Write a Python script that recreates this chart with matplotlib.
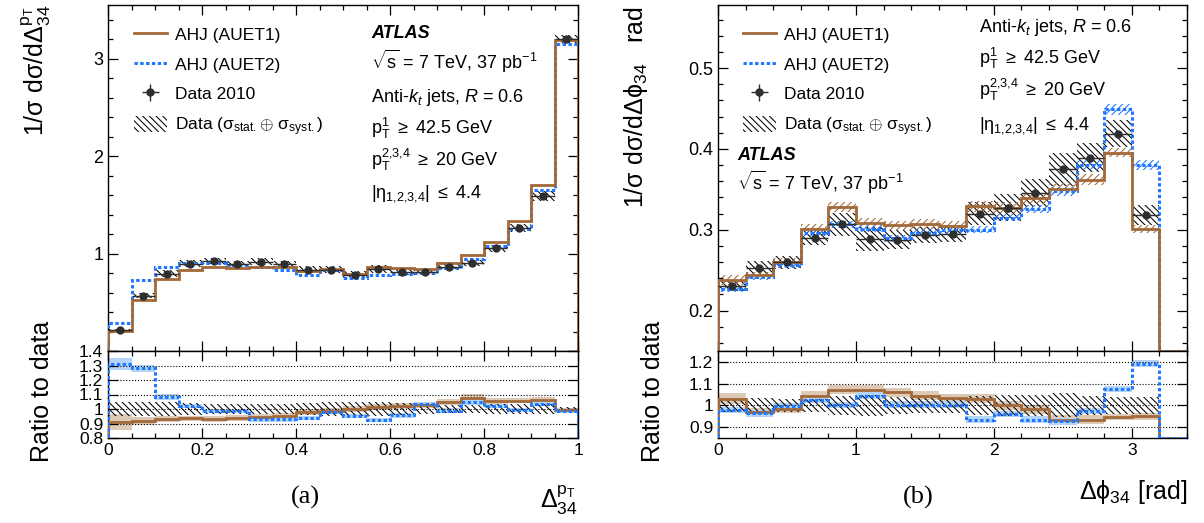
import numpy as np
import matplotlib
matplotlib.use('Agg')
import matplotlib.pyplot as plt
from matplotlib.ticker import MultipleLocator, FuncFormatter
from matplotlib.lines import Line2D
from matplotlib.patches import Patch

plt.rcParams['font.family'] = ['Liberation Sans', 'DejaVu Sans']
plt.rcParams['mathtext.fontset'] = 'custom'
plt.rcParams['mathtext.rm'] = 'Liberation Sans'
plt.rcParams['mathtext.it'] = 'Liberation Sans:italic'
plt.rcParams['mathtext.bf'] = 'Liberation Sans:bold'
plt.rcParams['hatch.linewidth'] = 0.75

BROWN = '#a2693a'
BLUE = '#1f78ff'
BROWN_BAND = '#dccab6'
BLUE_BAND = '#b5d5f8'

# ---- (a) pT balance of the two softer jets
ptbal_edges = np.round(np.arange(0, 1.0001, 0.05), 3)
ptbal_data = [0.217, 0.569, 0.791, 0.894, 0.921, 0.894, 0.918, 0.894, 0.836, 0.836,
              0.781, 0.843, 0.812, 0.812, 0.863, 0.904, 1.055, 1.263, 1.591, 3.198]
ptbal_data_err = [0.05, 0.045, 0.045, 0.04, 0.035, 0.035, 0.035, 0.035, 0.04, 0.045,
                  0.045, 0.045, 0.04, 0.035, 0.03, 0.03, 0.035, 0.035, 0.035, 0.015]
ptbal_auet1 = [0.203, 0.521, 0.737, 0.836, 0.860, 0.853, 0.860, 0.860, 0.822, 0.843,
               0.785, 0.863, 0.853, 0.843, 0.908, 0.980, 1.116, 1.338, 1.708, 3.195]
ptbal_auet2 = [0.292, 0.727, 0.863, 0.908, 0.908, 0.887, 0.863, 0.836, 0.781, 0.829,
               0.750, 0.778, 0.788, 0.800, 0.853, 0.949, 1.075, 1.256, 1.656, 3.154]
ptbal_ratio1 = [0.910, 0.917, 0.931, 0.935, 0.933, 0.940, 0.945, 0.954, 0.977, 0.984,
                0.998, 1.016, 1.023, 1.028, 1.048, 1.076, 1.053, 1.058, 1.062, 0.990]
ptbal_ratio1_err = [0.055, 0.03, 0.02, 0.02, 0.02, 0.02, 0.02, 0.02, 0.02, 0.02,
                    0.02, 0.02, 0.02, 0.02, 0.02, 0.025, 0.02, 0.02, 0.02, 0.015]
ptbal_ratio2 = [1.312, 1.280, 1.082, 1.020, 0.985, 0.985, 0.928, 0.928, 0.940, 0.980,
                0.952, 0.922, 0.956, 1.034, 0.989, 1.045, 1.020, 0.995, 1.034, 0.986]
ptbal_ratio2_err = [0.04, 0.025, 0.02, 0.015, 0.015, 0.015, 0.015, 0.015, 0.015, 0.015,
                    0.015, 0.015, 0.015, 0.015, 0.015, 0.015, 0.015, 0.015, 0.015, 0.012]

# ---- (b) azimuthal separation of the two softer jets
dphi_edges = np.round(np.arange(0, 3.4001, 0.2), 3)
dphi_data = [0.2307, 0.2525, 0.2598, 0.2898, 0.3066, 0.2885, 0.2877, 0.2934,
             0.2950, 0.3197, 0.3275, 0.3459, 0.3746, 0.3893, 0.4189, 0.3184]
dphi_data_err = [0.03, 0.035, 0.03, 0.03, 0.045, 0.05, 0.04, 0.035,
                 0.035, 0.045, 0.05, 0.05, 0.055, 0.045, 0.04, 0.04]
dphi_auet1 = [0.2377, 0.2434, 0.2600, 0.3008, 0.3280, 0.3086, 0.3053, 0.3066,
              0.3050, 0.3290, 0.3275, 0.3390, 0.3510, 0.3620, 0.3955, 0.3010, 0.0]
dphi_auet2 = [0.2266, 0.2418, 0.2570, 0.2963, 0.3066, 0.3015, 0.2893, 0.2963,
              0.2992, 0.3000, 0.3150, 0.3254, 0.3475, 0.3800, 0.4488, 0.3800, 0.0]
dphi_ratio1 = [1.031, 0.968, 0.983, 1.045, 1.072, 1.072, 1.060, 1.045,
               1.034, 1.031, 1.000, 0.982, 0.935, 0.935, 0.946, 0.949, 0.0]
dphi_ratio1_err = [0.025, 0.02, 0.02, 0.02, 0.02, 0.02, 0.02, 0.02,
                   0.02, 0.02, 0.02, 0.02, 0.02, 0.02, 0.015, 0.015, 0.0]
dphi_ratio2 = [0.978, 0.963, 0.997, 1.025, 1.002, 1.045, 1.003, 1.003,
               1.003, 0.935, 0.960, 0.935, 0.926, 0.975, 1.075, 1.192, 0.0]
dphi_ratio2_err = [0.015, 0.015, 0.015, 0.015, 0.015, 0.015, 0.015, 0.015,
                   0.015, 0.015, 0.015, 0.015, 0.015, 0.015, 0.015, 0.015, 0.0]

W, H = 1204, 523
fig = plt.figure(figsize=(W / 100, H / 100), dpi=100)


def fmt_g(v, p):
    return '%g' % round(v, 4)


def style_axis(ax, xmaj, xmin, ymaj, ymin, fs):
    ax.xaxis.set_major_locator(MultipleLocator(xmaj))
    ax.xaxis.set_minor_locator(MultipleLocator(xmin))
    ax.yaxis.set_major_locator(MultipleLocator(ymaj))
    if ymin:
        ax.yaxis.set_minor_locator(MultipleLocator(ymin))
    ax.tick_params(which='both', direction='in', top=True, right=True, labelsize=fs)
    ax.tick_params(which='major', length=7.5, width=0.9)
    ax.tick_params(which='minor', length=3.8, width=0.9)
    ax.yaxis.set_major_formatter(FuncFormatter(fmt_g))
    ax.xaxis.set_major_formatter(FuncFormatter(fmt_g))
    for s in ax.spines.values():
        s.set_linewidth(1.0)


def hatch_band(ax, edges, centre, rel, color, hatch, z):
    centre = np.asarray(centre, float)
    rel = np.asarray(rel, float)
    ax.stairs(centre * (1 + rel), edges, baseline=centre * (1 - rel), fill=True,
              facecolor='none', edgecolor=color, hatch=hatch, linewidth=0, zorder=z)


def draw_pair(axm, axr, edges, data, data_err, m1, m2, r1, r1e, r2, r2e, ylim_m, ylim_r, model_hatch):
    edges = np.asarray(edges)
    nd = len(data)
    dedges = edges[:nd + 1]
    centres = 0.5 * (dedges[1:] + dedges[:-1])
    half = 0.5 * np.diff(dedges)

    # main panel
    hatch_band(axm, dedges, data, data_err, 'black', '\\\\\\\\\\', 1)
    if model_hatch:
        nm = len(m1)
        hatch_band(axm, edges[:nm], np.asarray(m1[:-1]), np.asarray(r1e[:-1]), BROWN, '/////', 1)
        hatch_band(axm, edges[:nm], np.asarray(m2[:-1]), np.asarray(r2e[:-1]), BLUE, '/////', 1)
    axm.stairs(np.clip(m2, *ylim_m), edges, color=BLUE, lw=2.2, ls=(0, (1.1, 0.8)), zorder=3)
    axm.stairs(np.clip(m1, *ylim_m), edges, color=BROWN, lw=2.0, zorder=4)
    axm.errorbar(centres, data, xerr=half, yerr=np.zeros(nd), fmt='o', color='#2e2e2e',
                 ms=5, elinewidth=1.0, capsize=0, zorder=5)
    axm.set_xlim(edges[0], edges[-1])
    axm.set_ylim(*ylim_m)

    # ratio panel
    r1 = np.asarray(r1, float)
    r2 = np.asarray(r2, float)
    r1e = np.asarray(r1e, float)
    r2e = np.asarray(r2e, float)
    axr.stairs(r1 + r1e, edges, baseline=r1 - r1e, fill=True, color=BROWN_BAND, lw=0, zorder=1)
    axr.stairs(r2 + r2e, edges, baseline=r2 - r2e, fill=True, color=BLUE_BAND, lw=0, zorder=1)
    hatch_band(axr, dedges, np.ones(nd), data_err, 'black', '\\\\\\\\\\', 2)
    axr.stairs(np.clip(r1, *ylim_r), edges, color=BROWN, lw=2.0, zorder=3)
    axr.stairs(np.clip(r2, *ylim_r), edges, color=BLUE, lw=2.2, ls=(0, (1.1, 0.8)), zorder=4)
    axr.set_xlim(edges[0], edges[-1])
    axr.set_ylim(*ylim_r)
    axr.yaxis.grid(True, ls=':', color='black', lw=0.8)
    axm.tick_params(labelbottom=False)


def add_legend(ax, x, y):
    handles = [Line2D([], [], color=BROWN, lw=2.0),
               Line2D([], [], color=BLUE, lw=2.2, ls=(0, (1.1, 0.8))),
               ax.containers[0],
               Patch(facecolor='none', edgecolor='black', hatch='\\\\\\\\\\', lw=0)]
    labels = ['AHJ (AUET1)', 'AHJ (AUET2)', 'Data 2010',
              r'Data ($\mathregular{\sigma_{stat.}}\!\oplus\,\mathregular{\sigma_{syst.}}$)']
    ax.legend(handles, labels, loc='upper left', bbox_to_anchor=(x, y), frameon=False,
              fontsize=12.5, handlelength=1.9, handleheight=1.1, handletextpad=0.45,
              labelspacing=0.72, borderaxespad=0, borderpad=0)


# ---- panel (a)
axL = fig.add_axes([108 / W, 1 - 351 / H, 470 / W, 346 / H])
axLr = fig.add_axes([108 / W, 1 - 438 / H, 470 / W, 87 / H])
draw_pair(axL, axLr, ptbal_edges, ptbal_data, ptbal_data_err, ptbal_auet1, ptbal_auet2,
          ptbal_ratio1, ptbal_ratio1_err, ptbal_ratio2, ptbal_ratio2_err,
          (0, 3.55), (0.8, 1.4), False)
style_axis(axL, 0.2, 0.05, 1, 0.2, 13)
style_axis(axLr, 0.2, 0.05, 0.1, None, 12.5)
axL.yaxis.set_major_formatter(FuncFormatter(lambda v, p: '' if v == 0 else '%g' % v))
add_legend(axL, 0.055, 0.94)

# ---- panel (b)
axR = fig.add_axes([718 / W, 1 - 351 / H, 469 / W, 346 / H])
axRr = fig.add_axes([718 / W, 1 - 438 / H, 469 / W, 87 / H])
draw_pair(axR, axRr, dphi_edges, dphi_data, dphi_data_err, dphi_auet1, dphi_auet2,
          dphi_ratio1, dphi_ratio1_err, dphi_ratio2, dphi_ratio2_err,
          (0.15, 0.578), (0.85, 1.25), True)
style_axis(axR, 1, 0.2, 0.1, 0.02, 13)
style_axis(axRr, 1, 0.2, 0.1, None, 12.5)
add_legend(axR, 0.053, 0.94)


def ftext(x, y, s, **kw):
    kw.setdefault('fontsize', 13)
    fig.text(x / W, 1 - y / H, s, **kw)


PT1 = r'$\mathregular{p_{T}^{1}}\ \geq$ 42.5 GeV'
PT234 = r'$\mathregular{p_{T}^{2{,}3{,}4}}\ \geq$ 20 GeV'
ETA = r'|$\mathregular{\eta_{1{,}2{,}3{,}4}}$| $\leq$ 4.4'
SQRTS = r'$\sqrt{\mathregular{s}}$ = 7 TeV, 37 pb$^{\mathregular{-1}}$'
ANTIKT = r'Anti-$k_{t}$ jets, $R$ = 0.6'

# ---- texts, panel (a)
ftext(371, 38, 'ATLAS', fontweight='bold', style='italic', va='baseline')
ftext(371, 69, SQRTS, va='baseline')
ftext(371, 102, ANTIKT, va='baseline')
ftext(371, 134, PT1, va='baseline')
ftext(371, 166, PT234, va='baseline')
ftext(371, 198, ETA, va='baseline')

# ---- texts, panel (b)
ftext(979, 32, ANTIKT, va='baseline')
ftext(979, 64, PT1, va='baseline')
ftext(979, 96, PT234, va='baseline')
ftext(979, 129, ETA, va='baseline')
ftext(737, 160, 'ATLAS', fontweight='bold', style='italic', va='baseline')
ftext(737, 190, SQRTS, va='baseline')

# axis titles
ftext(36, 5, r'$\mathregular{1/\sigma\ d\sigma/d\Delta^{p_{T}}_{34}}$', rotation=90,
      ha='center', va='top', fontsize=18)
ftext(42, 321, 'Ratio to data', rotation=90, ha='center', va='top', fontsize=18)
ftext(636, 6, r'$\mathregular{1/\sigma\ d\sigma/d\Delta\phi_{34}}$   rad', rotation=90,
      ha='center', va='top', fontsize=18)
ftext(653, 321, 'Ratio to data', rotation=90, ha='center', va='top', fontsize=18)

ftext(578, 500, r'$\mathregular{\Delta^{p_{T}}_{34}}$', ha='right', va='center', fontsize=18)
ftext(1187, 492, r'$\mathregular{\Delta\phi_{34}}$ [rad]', ha='right', va='center', fontsize=18)
ftext(305, 497, '(a)', ha='center', va='center', fontsize=19, family='Liberation Serif')
ftext(918, 497, '(b)', ha='center', va='center', fontsize=19, family='Liberation Serif')

fig.savefig('out.png', dpi=100)
